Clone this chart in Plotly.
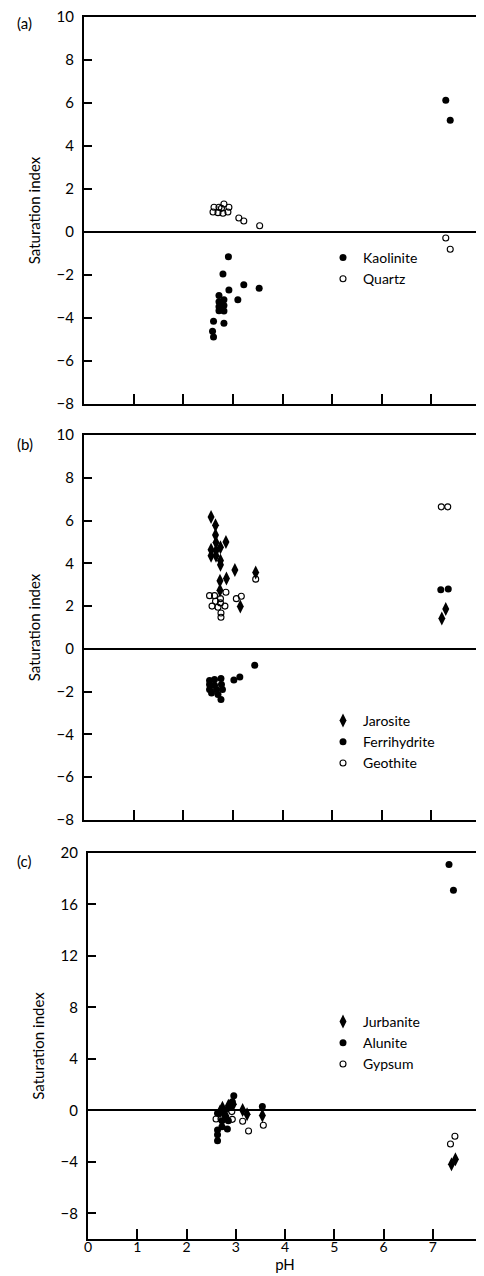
import plotly.graph_objects as go

# ---------------- data ----------------
# Panel (a)
kaolinite_ph = [7.29, 7.38, 2.91, 2.80, 3.22, 3.53, 2.92, 3.10, 2.72, 2.82, 2.72, 2.82, 2.72, 2.82, 2.72,
                2.61, 2.82, 2.59, 2.61]
kaolinite_si = [6.13, 5.20, -1.15, -1.95, -2.45, -2.62, -2.70, -3.15, -2.95, -3.15, -3.25, -3.42, -3.48,
                -3.68, -3.66, -4.15, -4.25, -4.62, -4.88]
quartz_ph = [2.62, 2.72, 2.82, 2.92, 2.60, 2.70, 2.80, 2.90, 2.77, 3.12, 3.22, 3.54, 7.29, 7.38]
quartz_si = [1.15, 1.15, 1.30, 1.15, 0.93, 0.90, 0.87, 0.93, 1.10, 0.65, 0.51, 0.29, -0.28, -0.80]

# Panel (b)
jarosite_ph = [2.56, 2.65, 2.65, 2.66, 2.86, 2.75, 2.56, 2.66, 2.56, 2.66, 2.75, 2.75, 3.04, 2.87, 2.74,
               3.46, 2.74, 3.15, 7.29, 7.21]
jarosite_si = [6.17, 5.78, 5.33, 4.97, 5.00, 4.75, 4.64, 4.59, 4.36, 4.36, 4.13, 3.93, 3.69, 3.29, 3.19,
               3.57, 2.74, 1.98, 1.87, 1.42]
ferrihydrite_ph = [3.44, 3.14, 3.02, 2.53, 2.63, 2.76, 2.53, 2.63, 2.77, 2.53, 2.67, 2.79, 2.57, 2.70,
                   2.76, 7.19, 7.34]
ferrihydrite_si = [-0.76, -1.31, -1.45, -1.48, -1.43, -1.39, -1.67, -1.70, -1.67, -1.90, -1.90, -1.90,
                   -2.06, -2.13, -2.37, 2.77, 2.80]
goethite_ph = [3.46, 2.53, 2.63, 2.75, 2.86, 3.07, 3.17, 2.65, 2.75, 2.58, 2.84, 2.70, 2.76, 2.76, 7.20, 7.33]
goethite_si = [3.26, 2.49, 2.49, 2.35, 2.65, 2.35, 2.46, 2.23, 2.15, 2.00, 2.00, 1.95, 1.68, 1.48, 6.64, 6.64]

# Panel (c)
jurbanite_ph = [2.73, 2.85, 2.95, 2.75, 2.80, 2.68, 3.14, 3.23, 3.54, 7.38, 7.46]
jurbanite_si = [0.21, 0.36, 0.47, -0.20, -0.45, -0.10, 0.02, -0.31, -0.41, -4.20, -3.81]
alunite_ph = [2.96, 2.93, 2.63, 2.63, 2.63, 2.63, 2.72, 2.83, 3.54, 2.72, 2.85, 2.78, 2.90, 7.33, 7.42]
alunite_si = [1.14, 0.67, -0.23, -1.53, -1.90, -2.36, -1.27, -1.45, 0.29, -0.80, -0.80, 0.05, 0.30, 19.1, 17.1]
gypsum_ph = [2.60, 2.93, 3.14, 3.26, 3.56, 2.80, 2.70, 2.92, 7.36, 7.45]
gypsum_si = [-0.67, -0.70, -0.85, -1.61, -1.16, -0.60, -0.65, -0.10, -2.62, -2.02]

x_ticks = [0, 1, 2, 3, 4, 5, 6, 7, 8]
y_ticks_ab = [-8, -6, -4, -2, 0, 2, 4, 6, 8, 10]
y_ticks_c = [-8, -4, 0, 4, 8, 12, 16, 20]

# ---------------- layout helpers ----------------
W, H = 484, 1276
FONT = "Lato, 'Open Sans', sans-serif"


def px_x(p):
    return p / W


def px_y(p):
    return 1 - p / H


fig = go.Figure()

filled = dict(symbol="circle", size=7, color="black")
opened = dict(symbol="circle-open", size=6, color="black", line=dict(width=1.1, color="black"))
diamond = dict(symbol="diamond-tall", size=10, color="black")


def add(xs, ys, name, marker, xa, ya, legend):
    fig.add_trace(go.Scatter(x=xs, y=ys, mode="markers", name=name, marker=marker,
                             xaxis=xa, yaxis=ya, legend=legend, legendgroup=name,
                             showlegend=True, cliponaxis=False))


add(kaolinite_ph, kaolinite_si, "Kaolinite", filled, "x", "y", "legend")
add(quartz_ph, quartz_si, "Quartz", opened, "x", "y", "legend")
add(jarosite_ph, jarosite_si, "Jarosite", diamond, "x2", "y2", "legend2")
add(ferrihydrite_ph, ferrihydrite_si, "Ferrihydrite", filled, "x2", "y2", "legend2")
add(goethite_ph, goethite_si, "Geothite", opened, "x2", "y2", "legend2")
add(jurbanite_ph, jurbanite_si, "Jurbanite", diamond, "x3", "y3", "legend3")
add(alunite_ph, alunite_si, "Alunite", filled, "x3", "y3", "legend3")
add(gypsum_ph, gypsum_si, "Gypsum", opened, "x3", "y3", "legend3")

axis_common = dict(showline=True, linecolor="black", linewidth=2, mirror=True,
                   showgrid=False, ticks="inside", tickcolor="black", tickwidth=1.5,
                   automargin=False, ticklabeloverflow="allow",
                   tickfont=dict(family=FONT, size=15, color="black"))

xdom_ab = [px_x(76), px_x(473)]
xdom_c = [px_x(80), px_x(474)]

xa = dict(axis_common, range=[0, 8], tickvals=x_ticks, ticklen=10, zeroline=False)
ya_ab = dict(axis_common, range=[-8, 10], tickvals=y_ticks_ab, ticklen=8,
             ticktext=[("\u2212" + str(-v)) if v < 0 else str(v) for v in y_ticks_ab],
             zeroline=True, zerolinecolor="black", zerolinewidth=1.6, ticklabelstandoff=5,
             title=dict(text="Saturation index", font=dict(family=FONT, size=15, color="black"),
                        standoff=12))
ya_c = dict(ya_ab, range=[-10, 20], tickvals=y_ticks_c,
            ticktext=[("\u2212" + str(-v)) if v < 0 else str(v) for v in y_ticks_c])

legend_common = dict(bgcolor="rgba(0,0,0,0)", borderwidth=0, itemwidth=30,
                     font=dict(family=FONT, size=14, color="black"), xanchor="left", yanchor="top",
                     traceorder="grouped", tracegroupgap=0, itemclick=False)

fig.update_layout(
    width=W, height=H, margin=dict(l=0, r=0, t=0, b=0),
    paper_bgcolor="white", plot_bgcolor="white",
    font=dict(family=FONT, size=15, color="black"),
    xaxis=dict(xa, domain=xdom_ab, anchor="y", showticklabels=False),
    yaxis=dict(ya_ab, domain=[px_y(396), px_y(9)], anchor="x"),
    xaxis2=dict(xa, domain=xdom_ab, anchor="y2", showticklabels=False),
    yaxis2=dict(ya_ab, domain=[px_y(812), px_y(427)], anchor="x2"),
    xaxis3=dict(xa, domain=xdom_c, anchor="y3", showticklabels=True, ticklabelstandoff=-6,
                tickfont=dict(family=FONT, size=14, color="black"),
                title=dict(text="pH", font=dict(family=FONT, size=15, color="black"), standoff=0)),
    yaxis3=dict(ya_c, domain=[px_y(1231), px_y(845)], anchor="x3"),
    legend=dict(legend_common, x=px_x(315), y=px_y(234)),
    legend2=dict(legend_common, x=px_x(315), y=px_y(697)),
    legend3=dict(legend_common, x=px_x(315), y=px_y(998)),
    showlegend=True,
)

for label, ypix in [("(a)", 15), ("(b)", 436), ("(c)", 853)]:
    fig.add_annotation(text=label, x=px_x(7), y=px_y(ypix), xref="paper", yref="paper",
                       xanchor="left", yanchor="middle", showarrow=False,
                       font=dict(family=FONT, size=15, color="black"))

fig.write_html("out.html")
